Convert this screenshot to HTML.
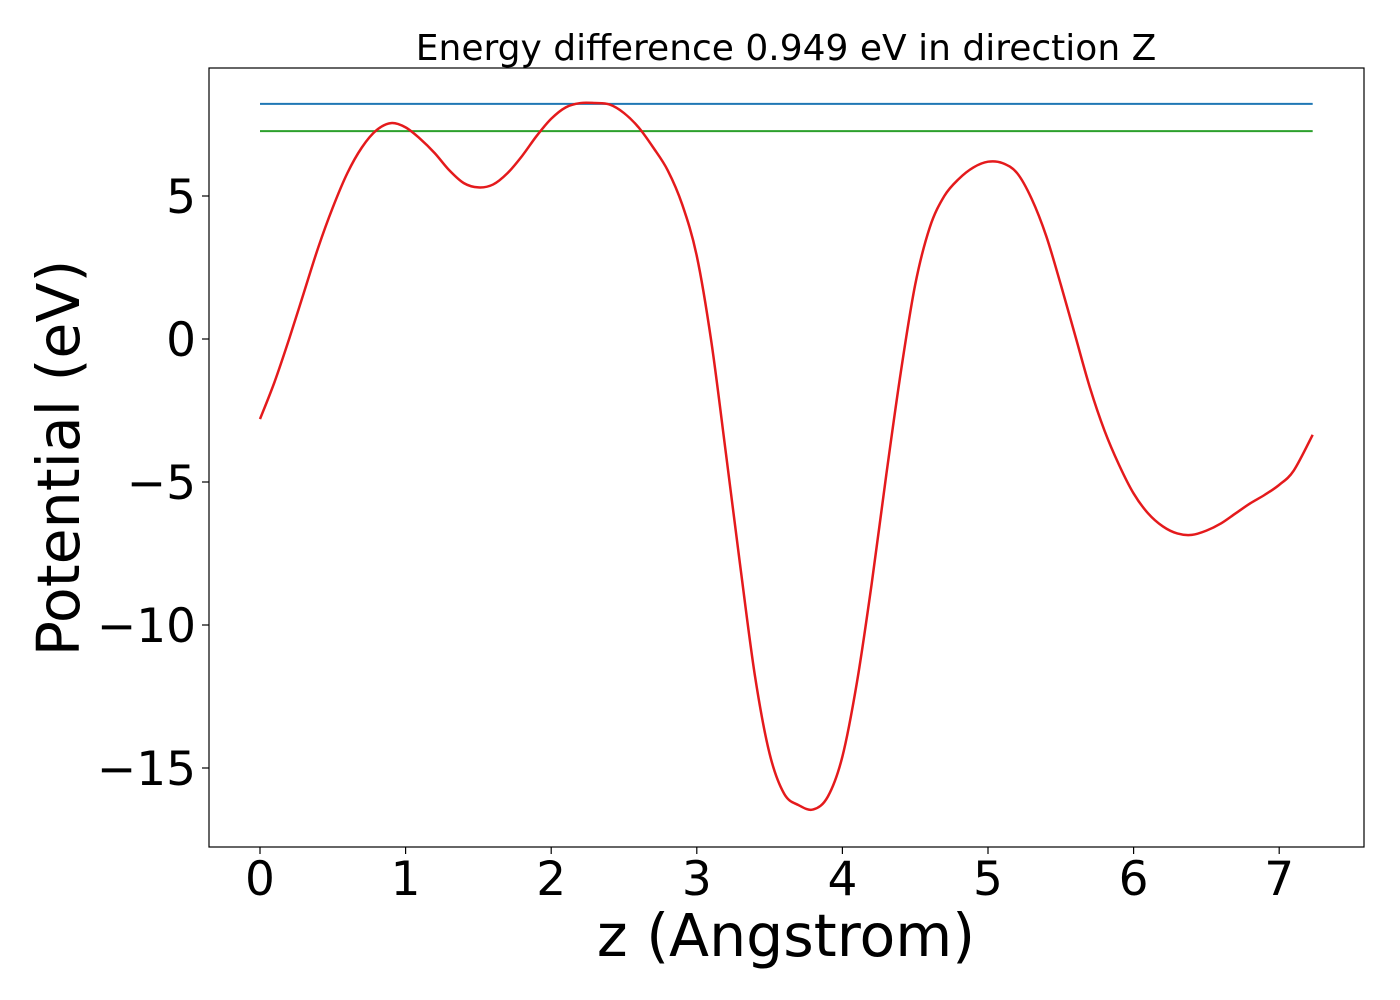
<!DOCTYPE html>
<html><head><meta charset="utf-8"><style>
html,body{margin:0;padding:0;background:#fff;}
svg{display:block;font-family:"DejaVu Sans","Liberation Sans",sans-serif;}
</style></head><body>
<svg id="chart" width="1400" height="1000" viewBox="0 0 1400 1000">
<rect x="0" y="0" width="1400" height="1000" fill="#fff"/>
<text x="786" y="60" font-size="36" text-anchor="middle">Energy difference 0.949 eV in direction Z</text>
<g id="marks"></g>
<rect x="209" y="68" width="1155" height="779" fill="none" stroke="#000" stroke-width="1.2"/>
<g id="xticks"></g><g id="yticks"></g>
<text x="786" y="956" font-size="58.5" text-anchor="middle">z (Angstrom)</text>
<text transform="translate(79,458) rotate(-90)" font-size="58.5" text-anchor="middle">Potential (eV)</text>
</svg>
<script>
const zValues=[0,0.1,0.2,0.3,0.4,0.5,0.6,0.7,0.8,0.9,1.0,1.1,1.2,1.3,1.4,1.5,1.6,1.7,1.8,1.9,2.0,2.1,2.2,2.3,2.4,2.5,2.6,2.7,2.8,2.9,3.0,3.1,3.2,3.3,3.4,3.5,3.6,3.7,3.8,3.9,4.0,4.1,4.2,4.3,4.4,4.5,4.6,4.7,4.8,4.9,5.0,5.1,5.2,5.3,5.4,5.5,5.6,5.7,5.8,5.9,6.0,6.1,6.2,6.3,6.4,6.5,6.6,6.7,6.8,6.9,7.0,7.1,7.23];
const potential=[-2.8,-1.5,0.0,1.6,3.2,4.6,5.8,6.7,7.3,7.55,7.4,7.0,6.5,5.9,5.45,5.3,5.4,5.8,6.4,7.1,7.7,8.1,8.25,8.25,8.2,7.9,7.4,6.7,5.9,4.7,2.9,-0.1,-4.0,-8.0,-11.8,-14.5,-15.9,-16.3,-16.45,-16.0,-14.6,-12.0,-8.6,-4.8,-1.2,1.9,3.9,5.0,5.6,6.0,6.2,6.15,5.8,4.9,3.6,1.9,0.1,-1.7,-3.2,-4.4,-5.4,-6.1,-6.55,-6.8,-6.85,-6.7,-6.45,-6.1,-5.75,-5.45,-5.1,-4.6,-3.35];
const maxLevel=8.22;
const minLevel=7.27;
const xTickValues=[0,1,2,3,4,5,6,7];
const yTickValues=[5,0,-5,-10,-15];
const X=v=>260+v*145.6;
const Y=v=>339-v*28.6;
const NS="http://www.w3.org/2000/svg";
const marks=document.getElementById('marks');
function mk(tag,attrs,parent){const e=document.createElementNS(NS,tag);for(const k in attrs)e.setAttribute(k,attrs[k]);parent.appendChild(e);return e;}
const x0=zValues[0],x1=zValues[zValues.length-1];
const bl=mk('line',{x1:X(x0),x2:X(x1),y1:Y(maxLevel),y2:Y(maxLevel),stroke:'#1f77b4','stroke-width':2},marks);


const gl=mk('line',{x1:X(x0),x2:X(x1),y1:Y(minLevel),y2:Y(minLevel),stroke:'#2ca02c','stroke-width':2},marks);


const P=zValues.map((z,i)=>[X(z),Y(potential[i])]);
let d='M'+P[0][0]+','+P[0][1];
for(let i=0;i<P.length-1;i++){
  const p0=P[Math.max(0,i-1)],p1=P[i],p2=P[i+1],p3=P[Math.min(P.length-1,i+2)];
  const c1=[p1[0]+(p2[0]-p0[0])/6,p1[1]+(p2[1]-p0[1])/6];
  const c2=[p2[0]-(p3[0]-p1[0])/6,p2[1]-(p3[1]-p1[1])/6];
  d+=' C'+c1[0]+','+c1[1]+' '+c2[0]+','+c2[1]+' '+p2[0]+','+p2[1];
}
const pl=mk('path',{d:d,fill:'none',stroke:'#e41a1c','stroke-width':2.5,'stroke-linejoin':'round'},marks);


const xt=document.getElementById('xticks');
xTickValues.forEach(v=>{
  const l=mk('line',{x1:X(v),x2:X(v),y1:847,y2:854,stroke:'#000','stroke-width':1.2},xt);
  
  
  const t=mk('text',{x:X(v),y:895,'font-size':47,'text-anchor':'middle'},xt);
  t.textContent=String(v);
  
  
});
const yt=document.getElementById('yticks');
yTickValues.forEach(v=>{
  const l=mk('line',{x1:202,x2:209,y1:Y(v),y2:Y(v),stroke:'#000','stroke-width':1.2},yt);
  
  
  const t=mk('text',{x:196,y:Y(v)+17,'font-size':47,'text-anchor':'end'},yt);
  t.textContent=v<0?'\u2212'+Math.abs(v):String(v);
  
  
});
</script>
</body></html>
